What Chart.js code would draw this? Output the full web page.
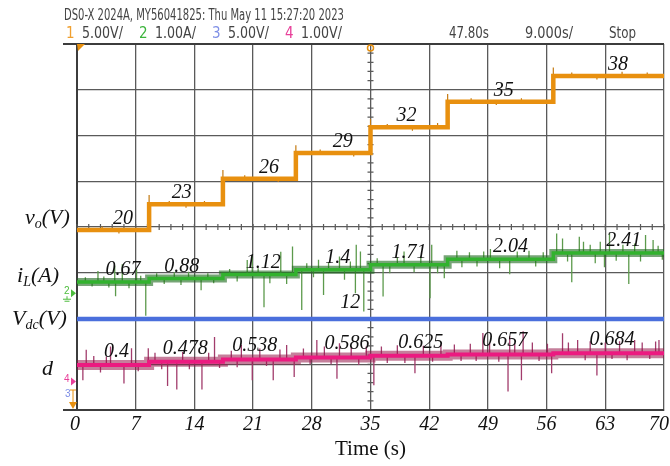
<!DOCTYPE html>
<html>
<head>
<meta charset="utf-8">
<script src="https://cdn.jsdelivr.net/npm/chart.js@4.4.0/dist/chart.umd.min.js"></script>
<style>
  html, body { margin: 0; padding: 0; background: #fff; }
  #wrap { position: relative; width: 670px; height: 466px; overflow: hidden; background: #fff; }
  #c { position: absolute; left: 0; top: 0; }
  .hd { position: absolute; font-family: "Liberation Sans Narrow", "DejaVu Sans Condensed", "Liberation Sans", Arial, sans-serif;
        font-size: 15px; line-height: 16px; color: #444; white-space: nowrap; transform-origin: 0 50%; }
  .lab { position: absolute; font-family: "Liberation Serif", "Times New Roman", serif; font-style: italic;
         font-size: 22px; line-height: 24px; color: #111; white-space: nowrap; }
  .lab sub { font-size: 14px; line-height: 0; vertical-align: -4px; }
</style>
</head>
<body>
<div id="wrap">
  <canvas id="c" width="670" height="466"></canvas>

  <div class="hd" style="left:64px;top:7px" data-w="280">DS0-X 2024A, MY56041825: Thu May 11 15:27:20 2023</div>
  <div class="hd" style="left:66px;top:25px;color:#f0a030">1</div>
  <div class="hd" style="left:82px;top:25px" data-w="41">5.00V/</div>
  <div class="hd" style="left:139px;top:25px;color:#3cb43c">2</div>
  <div class="hd" style="left:155px;top:25px" data-w="41">1.00A/</div>
  <div class="hd" style="left:212px;top:25px;color:#7f8fe6">3</div>
  <div class="hd" style="left:228px;top:25px" data-w="41">5.00V/</div>
  <div class="hd" style="left:285px;top:25px;color:#e8409a">4</div>
  <div class="hd" style="left:301px;top:25px" data-w="41">1.00V/</div>
  <div class="hd" style="left:449px;top:25px" data-w="40">47.80s</div>
  <div class="hd" style="left:525px;top:25px" data-w="48">9.000s/</div>
  <div class="hd" style="left:609px;top:25px" data-w="27">Stop</div>

  <div class="lab" style="left:25px;top:205px">v<sub>o</sub>(V)</div>
  <div class="lab" style="left:17px;top:263px">i<sub>L</sub>(A)</div>
  <div class="lab" style="left:12px;top:306px">V<sub>dc</sub>(V)</div>
  <div class="lab" style="left:42px;top:356px">d</div>
</div>

<script>
// Set-point schedule: each level holds from its start time until the next one.
const stepTimes = [0, 8.6, 17.4, 26.1, 35.0, 44.2, 56.8];
const endTime = 70;
const xTicks = [0, 7, 14, 21, 28, 35, 42, 49, 56, 63, 70];

// Output voltage vo (V), inductor current iL (A), DC input Vdc (V), duty ratio d
const voLevels = [20, 23, 26, 29, 32, 35, 38];
const iLLevels = [0.67, 0.88, 1.12, 1.4, 1.71, 2.04, 2.41];
const vdcLevels = [12, 12, 12, 12, 12, 12, 12];
const dLevels = [0.4, 0.478, 0.538, 0.586, 0.625, 0.657, 0.684];

// Where the value annotations sit along the time axis (s)
const voLabelAt = [5.5, 12.5, 22.9, 31.7, 39.3, 50.9, 64.5];
const iLLabelAt = [5.5, 12.5, 22.2, 31.1, 39.6, 51.7, 65.2];
const dLabelAt = [4.7, 12.9, 21.2, 32.2, 41.0, 51.0, 63.8];
const vdcLabelAt = 32.6;

// Switching spikes on each trace: time (s) and tip value
const voSpikeT = [8.6, 17.4, 26.1, 35.0, 44.2, 56.8, 3.0, 5.0, 11.0, 13.0, 15.2, 20.0, 24.0, 29.0, 33.0, 37.0, 40.0, 43.0, 47.0, 50.0, 53.0, 59.0, 62.0, 65.0, 68.0];
const voSpikeV = [24.1, 27.0, 29.9, 33.0, 35.9, 39.0, 20.4, 19.6, 23.4, 22.6, 23.4, 26.4, 25.6, 29.4, 28.6, 32.4, 31.6, 32.5, 35.4, 34.6, 35.4, 38.4, 37.6, 38.5, 38.4];

const iLSpikeT = [2.5, 4.5, 5.4, 7.1, 13.3, 20.3, 20.9, 24.3, 25.7, 28.8, 31.3, 33.3, 33.8, 39.0, 42.3, 45.3, 49.3, 53.9, 57.2, 57.9, 59.9, 60.4, 62.4, 63.5, 66.5, 67.8, 68.7,
                  4.6, 8.2, 14.8, 22.3, 26.8, 29.4, 33.2, 34.2, 36.5, 42.1, 43.8, 51.6, 59.0, 65.8, 62.9,
                  1.0, 1.8, 3.2, 3.8, 6.2, 7.6, 9.5, 10.4, 11.6, 12.4, 15.6, 16.3, 18.2, 19.1, 21.6, 23.0, 25.0, 27.4, 28.2, 30.0, 31.9, 32.6, 35.8, 37.3, 38.2, 40.2, 41.0, 43.0,
                  45.9, 46.8, 47.7, 48.5, 50.4, 52.5, 54.7, 55.6, 58.5, 61.2, 61.8, 64.3, 65.1, 67.2, 69.3, 69.8];
const iLSpikeV = [1.33, 1.64, 1.74, 1.44, 1.28, 1.99, 2.29, 2.49, 2.8, 2.0, 2.2, 2.9, 2.5, 2.5, 2.9, 2.54, 2.65, 2.55, 3.58, 3.28, 3.38, 3.08, 3.08, 3.58, 2.98, 3.48, 3.18,
                  -0.18, -1.35, 0.18, -0.84, -1.0, -0.1, 0.0, -1.1, -0.2, -0.3, 0.9, 1.14, 0.66, 0.55, 1.56,
                  0.95, 0.4, 1.0, 0.35, 0.3, 1.05, 1.2, 0.55, 1.25, 0.5, 1.2, 0.6, 1.45, 0.7, 1.5, 0.6, 0.55, 1.8, 0.95, 1.85, 0.8, 1.9, 2.1, 1.2, 2.15, 1.25, 2.2, 1.2,
                  1.55, 2.45, 1.6, 2.5, 1.5, 2.5, 1.6, 2.45, 1.9, 2.9, 1.8, 1.95, 2.9, 1.9, 2.85, 2.0];

const dSpikeT = [1.1, 4.0, 6.5, 8.5, 16.4, 19.6, 25.0, 28.6, 31.3, 48.4, 51.6, 53.2, 57.9, 59.7, 66.5, 69.4,
                 0.7, 5.6, 10.8, 11.9, 14.9, 20.9, 23.4, 25.9, 31.0, 35.4, 40.3, 51.4, 53.0, 56.6, 62.0,
                 2.0, 2.8, 3.5, 7.3, 9.3, 10.1, 12.6, 13.4, 15.7, 17.0, 18.4, 19.1, 21.8, 22.6, 24.2, 27.0, 27.8, 29.5, 30.3, 32.7, 33.6, 34.5, 36.3, 37.0, 38.2, 39.1,
                 41.3, 42.4, 43.4, 45.0, 45.8, 46.9, 47.6, 49.2, 50.3, 52.2, 54.3, 55.1, 56.1, 58.6, 60.6, 61.2, 63.0, 63.8, 64.7, 65.6, 67.4, 68.3, 69.0];
const dSpikeV = [0.77, 0.85, 0.81, 0.81, 1.08, 0.89, 0.89, 1.01, 0.93, 1.18, 1.1, 1.22, 1.17, 1.01, 1.01, 1.01,
                 0.03, -0.05, -0.11, -0.19, -0.19, 0.03, 0.03, 0.11, 0.07, -0.09, 0.2, -0.24, 0.03, 0.2, 0.15,
                 0.62, 0.22, 0.6, 0.25, 0.7, 0.3, 0.72, 0.3, 0.7, 0.33, 0.75, 0.35, 0.8, 0.38, 0.78, 0.8, 0.42, 0.85, 0.42, 0.82, 0.4, 0.85, 0.85, 0.45, 0.88, 0.45,
                 0.87, 0.48, 0.9, 0.9, 0.5, 0.92, 0.5, 0.95, 0.48, 0.93, 0.95, 0.5, 0.92, 0.95, 0.52, 0.98, 0.95, 0.55, 0.98, 0.52, 0.95, 0.55, 0.97];

function levelAt(levels, t) {
  let i = 0;
  while (i + 1 < stepTimes.length && t >= stepTimes[i + 1]) i++;
  return levels[i];
}
function stepPoints(levels) {
  const pts = stepTimes.map((t, i) => ({ x: t, y: levels[i] }));
  pts.push({ x: endTime, y: levels[levels.length - 1] });
  return pts;
}
function spikePoints(levels, ts, vs) {
  const pts = [];
  ts.forEach((t, i) => {
    pts.push({ x: t, y: levelAt(levels, t) }, { x: t, y: vs[i] }, { x: t, y: null });
  });
  return pts;
}

const serif = '"Liberation Serif", "Times New Roman", serif';
const gridColor = '#5a5a5a';

function line(label, data, axis, color, width, extra) {
  return Object.assign({
    label, data, yAxisID: axis, borderColor: color, borderWidth: width,
    pointRadius: 0, fill: false, tension: 0, spanGaps: false
  }, extra || {});
}

const datasets = [
  line('vo', stepPoints(voLevels), 'yVo', '#e8900f', 4.5, { stepped: true }),
  line('vo spikes', spikePoints(voLevels, voSpikeT, voSpikeV), 'yVo', '#c47a12', 1.2),
  line('iL', stepPoints(iLLevels), 'yIL', '#32b22e', 3.5, { stepped: true }),
  line('iL band', stepPoints(iLLevels), 'yIL', 'rgba(28,105,28,0.6)', 8, { stepped: true }),
  line('iL spikes', spikePoints(iLLevels, iLSpikeT, iLSpikeV), 'yIL', '#5c9a4c', 1.3),
  line('Vdc', stepPoints(vdcLevels), 'yVdc', '#4a6fdc', 4.5, { stepped: true }),
  line('d', stepPoints(dLevels), 'yD', '#ec1a80', 4, { stepped: true }),
  line('d band', stepPoints(dLevels), 'yD', 'rgba(150,22,72,0.55)', 10, { stepped: true }),
  line('d spikes', spikePoints(dLevels, dSpikeT, dSpikeV), 'yD', '#a23c6c', 1.3)
];

// Nudge the end tick labels inward so they stay on the canvas
const edgeTicks = {
  id: 'edgeTicks',
  beforeDraw(chart) {
    const items = chart.scales.x.getLabelItems();
    if (!items.length) return;
    items[0].options.translation[0] -= 2;
    items[items.length - 1].options.translation[0] -= 5;
  }
};

// Graticule details: minor ticks on the centre lines, frame extensions, channel markers
const scopeFrame = {
  id: 'scopeFrame',
  beforeDatasetsDraw(chart) {
    const { ctx, chartArea: a, scales } = chart;
    const cx = scales.x.getPixelForValue(35);
    const cy = scales.yGrid.getPixelForValue(4);
    ctx.save();
    ctx.strokeStyle = gridColor;
    ctx.lineWidth = 1.2;
    ctx.beginPath();
    for (let k = 0; k <= 50; k++) {
      const px = scales.x.getPixelForValue(k * 1.4);
      ctx.moveTo(px, cy - 3); ctx.lineTo(px, cy + 3);
    }
    for (let k = 0; k <= 40; k++) {
      const py = scales.yGrid.getPixelForValue(k * 0.2);
      ctx.moveTo(cx - 3, py); ctx.lineTo(cx + 3, py);
    }
    ctx.stroke();
    ctx.strokeStyle = '#3c3c3c';
    ctx.lineWidth = 2;
    ctx.beginPath();
    ctx.moveTo(63, a.top); ctx.lineTo(a.right, a.top);
    ctx.moveTo(63, a.bottom); ctx.lineTo(a.right, a.bottom);
    ctx.stroke();
    ctx.restore();
  },
  afterDraw(chart) {
    const { ctx, chartArea: a, scales } = chart;
    ctx.save();
    // trigger markers along the top edge
    ctx.fillStyle = '#e8900f';
    ctx.beginPath();
    ctx.moveTo(a.left, a.top); ctx.lineTo(a.left + 8, a.top); ctx.lineTo(a.left + 1, a.top + 7); ctx.closePath();
    ctx.fill();
    const tx = scales.x.getPixelForValue(35);
    ctx.strokeStyle = '#e8900f';
    ctx.lineWidth = 1.5;
    ctx.beginPath();
    ctx.arc(tx, a.top + 4, 3, 0, Math.PI * 2);
    ctx.stroke();

    // channel ground markers on the left edge
    ctx.font = '10px "Liberation Sans", Arial, sans-serif';
    ctx.textAlign = 'left';
    ctx.textBaseline = 'middle';
    const marker = (y, color, txt) => {
      ctx.fillStyle = color;
      ctx.fillText(txt, 64, y - 2);
      ctx.beginPath();
      ctx.moveTo(a.left - 6, y - 4); ctx.lineTo(a.left - 1, y); ctx.lineTo(a.left - 6, y + 4); ctx.closePath();
      ctx.fill();
    };
    const gy = scales.yIL.getPixelForValue(0);
    marker(gy, '#4cbc3c', '2');
    ctx.strokeStyle = '#4cbc3c';
    ctx.lineWidth = 1;
    ctx.beginPath();
    ctx.moveTo(67, gy + 3); ctx.lineTo(67, gy + 6);
    ctx.moveTo(63, gy + 6); ctx.lineTo(71, gy + 6);
    ctx.moveTo(64.5, gy + 8); ctx.lineTo(69.5, gy + 8);
    ctx.stroke();
    marker(scales.yD.getPixelForValue(0), '#e8409a', '4');
    ctx.fillStyle = '#7f8fe6';
    ctx.fillText('3', 65, 394);
    ctx.strokeStyle = '#e8900f';
    ctx.beginPath();
    ctx.moveTo(73, 390); ctx.lineTo(73, 402);
    ctx.moveTo(70, 390); ctx.lineTo(76, 390);
    ctx.stroke();
    ctx.fillStyle = '#e8900f';
    ctx.beginPath();
    ctx.moveTo(69, 402); ctx.lineTo(77, 402); ctx.lineTo(73, 409); ctx.closePath();
    ctx.fill();
    ctx.restore();
  }
};

// Value annotations above each level
const valueLabels = {
  id: 'valueLabels',
  afterDatasetsDraw(chart) {
    const { ctx, scales } = chart;
    ctx.save();
    ctx.font = 'italic 20px ' + serif;
    ctx.fillStyle = '#111';
    ctx.textAlign = 'center';
    ctx.textBaseline = 'alphabetic';
    const groups = [
      { levels: voLevels, at: voLabelAt, axis: 'yVo', lift: 6 },
      { levels: iLLevels, at: iLLabelAt, axis: 'yIL', lift: 7 },
      { levels: dLevels, at: dLabelAt, axis: 'yD', lift: 8 }
    ];
    groups.forEach(g => {
      g.levels.forEach((v, i) => {
        ctx.fillText(String(v), scales.x.getPixelForValue(g.at[i]), scales[g.axis].getPixelForValue(v) - g.lift);
      });
    });
    const vdc = levelAt(vdcLevels, vdcLabelAt);
    ctx.fillText(String(vdc), scales.x.getPixelForValue(vdcLabelAt), scales.yVdc.getPixelForValue(vdc) - 11);
    ctx.restore();
  }
};

new Chart(document.getElementById('c'), {
  type: 'line',
  data: { datasets },
  plugins: [edgeTicks, scopeFrame, valueLabels],
  options: {
    responsive: false,
    animation: false,
    events: [],
    layout: { padding: { left: 77, right: 6, top: 44, bottom: 0 } },
    plugins: { legend: { display: false }, tooltip: { enabled: false } },
    scales: {
      x: {
        type: 'linear', min: 0, max: endTime, position: 'bottom',
        afterBuildTicks: s => { s.ticks = xTicks.map(v => ({ value: v })); },
        afterFit: s => { s.height = 56; s.paddingLeft = 0; s.paddingRight = 0; },
        ticks: { autoSkip: false, maxRotation: 0, padding: 3, color: '#111',
                 font: { family: serif, style: 'italic', size: 20 } },
        grid: { color: gridColor, lineWidth: 1.3, drawTicks: false },
        border: { color: '#3c3c3c', width: 2 },
        title: { display: true, text: 'Time (s)', color: '#111',
                 font: { family: serif, size: 21 }, padding: { top: 0, bottom: 4 } }
      },
      yGrid: {
        type: 'linear', position: 'left', min: 0, max: 8,
        ticks: { display: false, stepSize: 1 },
        afterFit: s => { s.width = 0; },
        grid: { color: gridColor, lineWidth: 1.3, drawTicks: false },
        border: { color: '#3c3c3c', width: 2 }
      },
      yVo: { type: 'linear', display: false, min: -1.04, max: 41.74 },
      yIL: { type: 'linear', display: false, min: -6.99, max: 14.92 },
      yVdc: { type: 'linear', display: false, min: 2.02, max: 42.15 },
      yD: { type: 'linear', display: false, min: -0.69, max: 8.19 }
    }
  }
});

// squeeze the narrow screen font to its box widths
document.querySelectorAll('.hd[data-w]').forEach(el => {
  const w = parseFloat(el.dataset.w);
  const natural = el.getBoundingClientRect().width;
  if (natural > 0) el.style.transform = 'scaleX(' + (w / natural).toFixed(3) + ')';
});
</script>
</body>
</html>
